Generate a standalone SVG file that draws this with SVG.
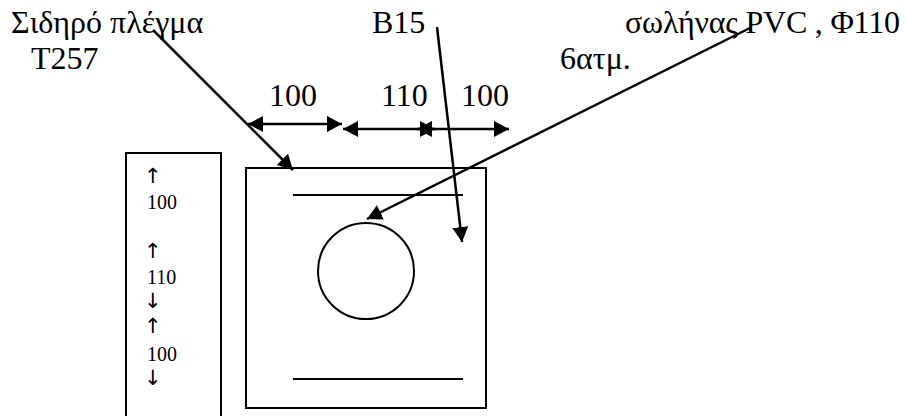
<svg xmlns="http://www.w3.org/2000/svg" width="906" height="416" viewBox="0 0 906 416">
<style>
text{font-family:"Liberation Serif","Times New Roman",serif;fill:#000;font-size:32px}
.s{font-size:20px}
.u{font-family:"DejaVu Sans",sans-serif;font-size:21px}
.l{fill:none;stroke:#000;stroke-width:2}
.c{fill:none;stroke:#000;stroke-width:2.5}
</style>
<defs>
<marker id="a" markerUnits="userSpaceOnUse" markerWidth="17" markerHeight="17" refX="15" refY="8" orient="auto-start-reverse"><path d="M0 0L15 8L0 16Z" fill="#000"/></marker>
</defs>
<rect width="906" height="416" fill="#fff"/>
<g id="label-mesh"><text x="11" y="33">Σιδηρό πλέγμα</text><text x="31" y="69">Τ257</text></g>
<g id="label-b15"><text x="372" y="33">Β15</text></g>
<g id="label-pipe"><text x="625" y="33" textLength="275">σωλήνας PVC , Φ110</text><text x="560" y="69">6ατμ.</text></g>
<g id="label-dims"><text x="269" y="106">100</text><text x="381" y="106">110</text><text x="461" y="106">100</text></g>
<g id="side-box"><rect class="l" x="126" y="153" width="95" height="270"/>
<text class="u" x="144" y="183">↑</text><text class="s" x="147" y="209">100</text>
<text class="u" x="144" y="258">↑</text><text class="s" x="147" y="284">110</text>
<text class="u" x="144" y="308">↓</text><text class="u" x="144" y="333">↑</text><text class="s" x="147" y="361">100</text>
<text class="u" x="144" y="385">↓</text></g>
<g id="section"><rect class="l" x="246" y="168" width="240" height="240"/>
<line class="l" x1="293" y1="195" x2="463" y2="195"/><line class="l" x1="293" y1="379" x2="463" y2="379"/>
<circle class="l" cx="366" cy="271" r="48"/></g>
<g id="connectors">
<line class="c" x1="153" y1="30" x2="293" y2="170" marker-end="url(#a)"/>
<line class="c" x1="437" y1="27" x2="462" y2="242" marker-end="url(#a)"/>
<line class="c" x1="750" y1="28" x2="367" y2="219" marker-end="url(#a)"/>
<line class="c" x1="248" y1="124" x2="342" y2="124" marker-start="url(#a)" marker-end="url(#a)"/>
<line class="c" x1="343" y1="129" x2="435" y2="129" marker-start="url(#a)" marker-end="url(#a)"/>
<line class="c" x1="417" y1="129" x2="509" y2="129" marker-start="url(#a)" marker-end="url(#a)"/>
</g>
</svg>
